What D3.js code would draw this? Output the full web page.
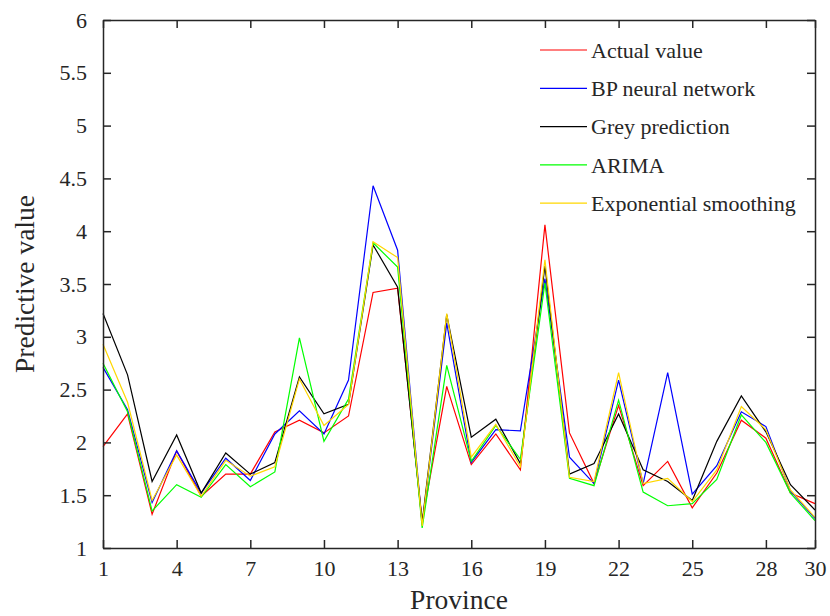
<!DOCTYPE html>
<html>
<head>
<meta charset="utf-8">
<script src="https://cdn.jsdelivr.net/npm/d3@7"></script>
<style>
  body { margin: 0; background: #fff; }
  svg text { font-family: "Liberation Serif", "Times New Roman", serif; fill: #262626; }
  .frame path, .frame line { stroke: #262626; stroke-width: 1.5; }
</style>
</head>
<body>
<svg id="chart" width="830" height="616"></svg>
<script>
const provinces = d3.range(1, 31);
const xTicks = [1, 4, 7, 10, 13, 16, 19, 22, 25, 28, 30];
const yTicks = [1, 1.5, 2, 2.5, 3, 3.5, 4, 4.5, 5, 5.5, 6];

const actualValue = [1.96, 2.27, 1.32, 1.92, 1.49, 1.70, 1.70, 2.10, 2.21, 2.09,
                     2.25, 3.42, 3.46, 1.26, 2.53, 1.79, 2.08, 1.74, 4.06, 2.09,
                     1.61, 2.35, 1.59, 1.82, 1.38, 1.71, 2.21, 2.04, 1.52, 1.42];
const bpNetwork   = [2.71, 2.31, 1.43, 1.92, 1.52, 1.85, 1.64, 2.08, 2.30, 2.08,
                     2.59, 4.43, 3.82, 1.22, 3.13, 1.81, 2.12, 2.11, 3.55, 1.86,
                     1.61, 2.59, 1.61, 2.66, 1.51, 1.78, 2.29, 2.15, 1.54, 1.28];
const greyModel   = [3.22, 2.64, 1.63, 2.07, 1.52, 1.90, 1.70, 1.81, 2.62, 2.27,
                     2.36, 3.87, 3.47, 1.24, 3.21, 2.05, 2.22, 1.80, 3.67, 1.70,
                     1.80, 2.27, 1.74, 1.63, 1.45, 2.01, 2.44, 2.10, 1.60, 1.36];
const arima       = [2.75, 2.29, 1.35, 1.60, 1.48, 1.79, 1.58, 1.72, 2.99, 2.01,
                     2.41, 3.89, 3.66, 1.19, 2.73, 1.82, 2.16, 1.84, 3.51, 1.66,
                     1.59, 2.40, 1.53, 1.40, 1.42, 1.65, 2.26, 2.00, 1.52, 1.26];
const expSmooth   = [2.93, 2.38, 1.45, 1.88, 1.49, 1.83, 1.68, 1.77, 2.60, 2.16,
                     2.36, 3.90, 3.75, 1.21, 3.22, 1.86, 2.17, 1.77, 3.73, 1.67,
                     1.63, 2.66, 1.61, 1.66, 1.44, 1.74, 2.34, 2.12, 1.55, 1.29];

const seriesNames = ['Actual value', 'BP neural network', 'Grey prediction', 'ARIMA', 'Exponential smoothing'];
const seriesColors = ['#ff0000', '#0000ff', '#000000', '#00ff00', '#ffd700'];
const seriesValues = [actualValue, bpNetwork, greyModel, arima, expSmooth];

const serif = '"Liberation Serif", "Times New Roman", serif';
const svg = d3.select('#chart');
const margin = { top: 20, right: 15, bottom: 68, left: 103 };
const width = +svg.attr('width') - margin.left - margin.right;
const height = +svg.attr('height') - margin.top - margin.bottom;
const g = svg.append('g').attr('transform', `translate(${margin.left},${margin.top})`);

const x = d3.scaleLinear().domain([1, 30]).range([0, width]);
const y = d3.scaleLinear().domain([1, 6]).range([height, 0]);

// lines
const line = d3.line()
    .x((d, i) => x(provinces[i]))
    .y(d => y(d));

seriesValues.forEach((vals, k) => {
    g.append('path')
        .datum(vals)
        .attr('fill', 'none')
        .attr('stroke', seriesColors[k])
        .attr('stroke-width', 1.2)
        .attr('d', line);
});

// axes, ticks pointing inward (box on)
const tick = 8;
g.append('g')
    .attr('class', 'frame')
    .attr('transform', `translate(0,${height})`)
    .call(d3.axisBottom(x).tickValues(xTicks).tickSize(-tick).tickPadding(12).tickSizeOuter(0))
    .attr('font-family', serif)
    .selectAll('text').attr('font-size', 22).attr('dy', '0.71em');

g.append('g')
    .attr('class', 'frame')
    .call(d3.axisLeft(y).tickValues(yTicks).tickSize(-tick).tickPadding(16).tickSizeOuter(0)
        .tickFormat(d3.format('')))
    .attr('font-family', serif)
    .selectAll('text').attr('font-size', 22);

g.append('g')
    .attr('class', 'frame')
    .call(d3.axisTop(x).tickValues(xTicks).tickSize(-tick).tickFormat('').tickSizeOuter(0));

g.append('g')
    .attr('class', 'frame')
    .attr('transform', `translate(${width},0)`)
    .call(d3.axisRight(y).tickValues(yTicks).tickSize(-tick).tickFormat('').tickSizeOuter(0));

g.selectAll('.frame .domain').attr('fill', 'none');

// axis labels
svg.append('text')
    .attr('x', margin.left + width / 2)
    .attr('y', 609)
    .attr('text-anchor', 'middle')
    .attr('font-size', 27.5)
    .text('Province');

svg.append('text')
    .attr('transform', `translate(34,${margin.top + height / 2}) rotate(-90)`)
    .attr('text-anchor', 'middle')
    .attr('font-size', 27.5)
    .text('Predictive value');

// legend
const legend = g.append('g').attr('transform', 'translate(437,30)');
seriesNames.forEach((name, k) => {
    const row = legend.append('g').attr('transform', `translate(0,${k * 38.3})`);
    row.append('line')
        .attr('x1', 0).attr('x2', 47)
        .attr('stroke', seriesColors[k])
        .attr('stroke-width', 1.2);
    row.append('text')
        .attr('x', 51)
        .attr('dy', '0.35em')
        .attr('font-size', 22)
        .text(name);
});
</script>
</body>
</html>
